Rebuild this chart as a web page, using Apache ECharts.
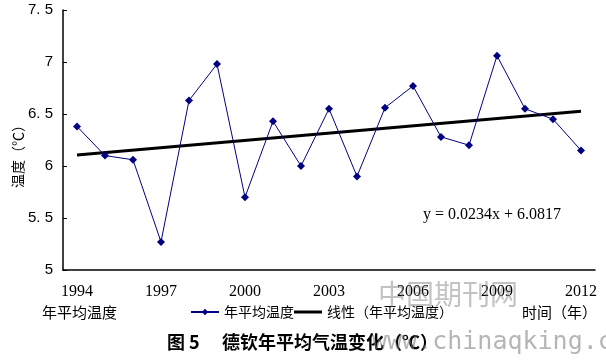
<!DOCTYPE html>
<html><head><meta charset="utf-8">
<script src="https://cdn.jsdelivr.net/npm/echarts@6/dist/echarts.min.js"></script>
<style>html,body{margin:0;padding:0;background:#fff}#c{width:606px;height:362px}</style>
</head><body><div id="c"></div>
<script>
const years = ['1994','1995','1996','1997','1998','1999','2000','2001','2002','2003','2004','2005','2006','2007','2008','2009','2010','2011','2012'];
const tempValues = [6.38,6.10,6.06,5.27,6.63,6.98,5.70,6.43,6.00,6.55,5.90,6.56,6.77,6.28,6.20,7.06,6.55,6.45,6.15];
const trendPoints = [['1994',6.105],['2012',6.526]];
const yTicks = [5,5.5,6,6.5,7,7.5];
const equationText = 'y = 0.0234x + 6.0817';
const seriesName = '年平均温度';
const trendName = '线性（年平均温度）';

const chart = echarts.init(document.getElementById('c'));
const cjk = '"Noto Sans CJK SC", sans-serif';
chart.setOption({
  animation:false,
  grid:{left:63,right:11,top:10,bottom:92},
  xAxis:{type:'category',data:years,boundaryGap:true,
    axisLine:{lineStyle:{color:'#000',width:1.5}},
    axisTick:{inside:true,length:5,interval:0,lineStyle:{color:'#000'}},
    axisLabel:{interval:2,color:'#000',fontFamily:'"Liberation Serif", serif',fontSize:16,margin:14},
    splitLine:{show:false}},
  yAxis:{type:'value',min:5,max:7.5,interval:0.5,
    axisLine:{show:true,lineStyle:{color:'#000',width:1.5}},
    axisTick:{show:true,inside:true,length:4,lineStyle:{color:'#000'}},
    axisLabel:{color:'#000',fontFamily:'"Liberation Sans", sans-serif',fontSize:15,margin:10,
      formatter:v=>String(v).replace('.', '. ')},
    splitLine:{show:false}},
  legend:{left:190,top:305,padding:0,itemWidth:28,itemHeight:8,itemGap:0,symbolKeepAspect:true,
    textStyle:{fontFamily:cjk,fontSize:14,color:'#000'},
    data:[{name:seriesName},{name:trendName,icon:'path://M0,0L28,0L28,3L0,3Z',itemStyle:{color:'#000'}}]},
  series:[
    {name:seriesName,type:'line',data:tempValues,symbol:'diamond',symbolSize:8,
      lineStyle:{color:'#000080',width:1},itemStyle:{color:'#000080'},z:3},
    {name:trendName,type:'line',data:trendPoints,symbol:'none',
      lineStyle:{color:'#000',width:3},itemStyle:{color:'#000'},z:2}
  ],
  graphic:[
    {type:'text',left:423,top:207,style:{text:equationText,font:'16px "Liberation Serif", serif',fill:'#000'}},
    {type:'text',x:18,y:153,rotation:Math.PI/2,style:{text:'温度（℃）',font:'14px '+cjk,fill:'#000',align:'center',verticalAlign:'middle'}},
    {type:'text',left:42,top:305,style:{text:'年平均温度',font:'15px '+cjk,fill:'#000'}},
    {type:'text',left:522,top:305,style:{text:'时间（年）',font:'15px '+cjk,fill:'#000'}},
    {type:'text',left:167,top:333,style:{text:'图 5',font:'bold 18px '+cjk,fill:'#000'}},
    {type:'text',left:222,top:333,style:{text:'德钦年平均气温变化（℃）',font:'bold 18px '+cjk,fill:'#000'}},
    {type:'text',left:378,top:280,z:100,style:{text:'中国期刊网',font:'28px '+cjk,fill:'rgba(120,120,120,0.45)'}},
    {type:'text',left:372,top:330,z:100,style:{text:'www.chinaqking.com',font:'25px "DejaVu Sans Mono", monospace',fill:'rgba(120,120,120,0.55)'}}
  ]
});
</script></body></html>
